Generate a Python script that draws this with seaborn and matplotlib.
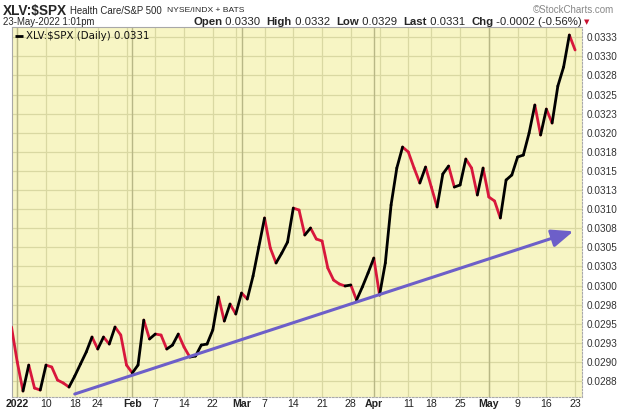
import numpy as np
import pandas as pd
import matplotlib
matplotlib.use("Agg")
import matplotlib.pyplot as plt
import seaborn as sns

# ---------------- data ----------------
holidays = ["2022-01-17", "2022-02-21", "2022-04-15"]
dates = pd.bdate_range("2021-12-31", "2022-05-23", freq="C", holidays=holidays)

ratio = [
    0.029457, 0.028999, 0.028619, 0.028959, 0.028658, 0.028632, 0.028959, 0.028933,
    0.028763, 0.028724, 0.028671, 0.028815, 0.028973, 0.029130, 0.029326, 0.029169,
    0.029326, 0.029234, 0.029457, 0.029352, 0.028959, 0.028855, 0.028959, 0.029548,
    0.029300, 0.029365, 0.029352, 0.029169, 0.029221, 0.029365, 0.029195, 0.029064,
    0.029077, 0.029221, 0.029234, 0.029418, 0.029850, 0.029535, 0.029758, 0.029627,
    0.029902, 0.029823, 0.030124, 0.030504, 0.030884, 0.030491, 0.030295, 0.030425,
    0.030569, 0.031014, 0.030988, 0.030661, 0.030753, 0.030609, 0.030583, 0.030229,
    0.030072, 0.030020, 0.029994, 0.030007, 0.029810, 0.029980, 0.030164, 0.030360,
    0.029876, 0.030295, 0.031054, 0.031538, 0.031813, 0.031748, 0.031538, 0.031342,
    0.031551, 0.031289, 0.031028, 0.031460, 0.031564, 0.031289, 0.031316, 0.031656,
    0.031538, 0.031185, 0.031538, 0.031159, 0.031106, 0.030884, 0.031381, 0.031447,
    0.031682, 0.031708, 0.031996, 0.032363, 0.031970, 0.032310, 0.032127, 0.032611,
    0.032860, 0.033279, 0.033083,
]

ytick_vals = [0.02875, 0.0290, 0.02925, 0.0295, 0.02975, 0.0300, 0.03025, 0.0305,
              0.03075, 0.0310, 0.03125, 0.0315, 0.03175, 0.0320, 0.03225, 0.0325,
              0.03275, 0.0330, 0.03325]
ytick_labels = ["0.0288", "0.0290", "0.0293", "0.0295", "0.0298", "0.0300", "0.0303",
                "0.0305", "0.0308", "0.0310", "0.0313", "0.0315", "0.0318", "0.0320",
                "0.0323", "0.0325", "0.0328", "0.0330", "0.0333"]

xtick_dates = ["2022-01-03", "2022-01-10", "2022-01-18", "2022-01-24", "2022-02-01",
               "2022-02-07", "2022-02-14", "2022-02-22", "2022-03-01", "2022-03-07",
               "2022-03-14", "2022-03-21", "2022-03-28", "2022-04-01", "2022-04-11",
               "2022-04-18", "2022-04-25", "2022-05-02", "2022-05-09", "2022-05-16",
               "2022-05-23"]
xtick_labels = ["2022", "10", "18", "24", "Feb", "7", "14", "22", "Mar", "7", "14",
                "21", "28", "Apr", "11", "18", "25", "May", "9", "16", "23"]
bold_labels = {"2022", "Feb", "Mar", "Apr", "May"}

trend_dates = ["2022-01-18", "2022-05-23"]
trend_vals = [0.02858, 0.03071]

# ---------------- figure ----------------
sns.set_theme(style="white")
plt.rcParams["font.family"] = ["Liberation Sans", "DejaVu Sans"]
plt.rcParams["lines.solid_capstyle"] = "round"
plt.rcParams["lines.solid_joinstyle"] = "round"

W, H = 620, 411
fig = plt.figure(figsize=(W / 100, H / 100), dpi=100)
fig.patch.set_facecolor("white")
L, R, B, T = 11.5, 582, 397, 27
ax = fig.add_axes([L / W, 1 - B / H, (R - L) / W, (B - T) / H])
ax.set_facecolor("#f7f5c4")

pos = {d.strftime("%Y-%m-%d"): i for i, d in enumerate(dates)}

# grid lines
for v in ytick_vals:
    ax.axhline(v, color="#d9d8a2", lw=0.9, zorder=0)
week_starts = [i for i in range(len(dates))
               if i == 0 or dates[i].isocalendar()[1] != dates[i - 1].isocalendar()[1]]
month_starts = [i for i in range(1, len(dates)) if dates[i].month != dates[i - 1].month]
for i in week_starts:
    if i > 0:
        ax.axvline(i, color="#d9d8a2", lw=0.9, zorder=0)
for i in month_starts:
    ax.axvline(i, color="#b8b786", lw=1.0, zorder=0)

# price line, black up / red down segments
rows = []
for i in range(1, len(ratio)):
    d = "up" if ratio[i] >= ratio[i - 1] else "down"
    rows.append(dict(seg=i, x=i - 1, v=ratio[i - 1], dir=d))
    rows.append(dict(seg=i, x=i, v=ratio[i], dir=d))
df = pd.DataFrame(rows)
sns.lineplot(data=df, x="x", y="v", hue="dir", units="seg", estimator=None,
             palette={"up": "#000000", "down": "#d8173c"}, lw=2.0, legend=False,
             sort=False, ax=ax, zorder=3)

# trend arrow
tx = [pos[d] for d in trend_dates]
ax.annotate("", xy=(tx[1] - 0.3, trend_vals[1]), xytext=(tx[0], trend_vals[0]),
            arrowprops=dict(arrowstyle="-|>,head_length=1.1,head_width=0.45",
                            color="#6d5fc9", lw=2.2, shrinkA=0, shrinkB=0),
            zorder=4)

ax.set_xlim(0, 99.2)
ax.set_ylim(0.028541, 0.033384)
ax.set_xlabel("")
ax.set_ylabel("")

ax.yaxis.tick_right()
ax.set_yticks(ytick_vals)
ax.set_yticklabels(ytick_labels)
ax.tick_params(axis="y", length=0, pad=3, labelsize=7.2, labelcolor="#333333")
ax.set_xticks([pos[d] for d in xtick_dates])
ax.set_xticklabels(xtick_labels)
ax.tick_params(axis="x", length=0, pad=1.5, labelsize=7.6, labelcolor="#222222")
for lab in ax.get_xticklabels():
    if lab.get_text() in bold_labels:
        lab.set_fontweight("bold")

for s in ["left", "top"]:
    ax.spines[s].set_color("#a8a8a8")
    ax.spines[s].set_linewidth(0.8)
for s in ["bottom", "right"]:
    ax.spines[s].set_color("#aaaaaa")
    ax.spines[s].set_linewidth(0.8)
    ax.spines[s].set_linestyle((0, (1.5, 1.5)))

# legend text inside the plot
ax.plot([0.006, 0.02], [0.975, 0.975], transform=ax.transAxes, color="black", lw=2.0,
        solid_capstyle="butt")
ax.text(0.026, 0.975, "XLV:$SPX (Daily) 0.0331", transform=ax.transAxes,
        fontsize=7.4, family="DejaVu Sans", va="center", ha="left", color="#111111")

# header
fig.canvas.draw()
rend = fig.canvas.get_renderer()


def seq(x0, y, pieces):
    xc = x0
    for txt, kw, gap in pieces:
        t = fig.text(xc / W, 1 - y / H, txt, va="center", ha="left", **kw)
        xc += t.get_window_extent(renderer=rend).width + gap
    return xc


seq(3, 11, [("XLV:$SPX", dict(fontsize=9.8, fontweight="bold"), 3),
            ("Health Care/S&P 500", dict(fontsize=6.9), 5),
            ("NYSE/INDX + BATS", dict(fontsize=6.1), 0)])
fig.text(614 / W, 1 - 10 / H, "©StockCharts.com", fontsize=7.0, va="center", ha="right",
         color="#888888")
fig.text(3 / W, 1 - 22 / H, "23-May-2022 1:01pm", fontsize=6.9, va="center", ha="left")

fs2 = 8.2
xend = seq(193, 22, [("Open", dict(fontsize=fs2, fontweight="bold"), 0),
                     (" 0.0330  ", dict(fontsize=fs2), 0),
                     ("High", dict(fontsize=fs2, fontweight="bold"), 0),
                     (" 0.0332  ", dict(fontsize=fs2), 0),
                     ("Low", dict(fontsize=fs2, fontweight="bold"), 0),
                     (" 0.0329  ", dict(fontsize=fs2), 0),
                     ("Last", dict(fontsize=fs2, fontweight="bold"), 0),
                     (" 0.0331  ", dict(fontsize=fs2), 0),
                     ("Chg", dict(fontsize=fs2, fontweight="bold"), 0),
                     (" -0.0002 (-0.56%)", dict(fontsize=fs2), 0)])
fig.text((xend + 2) / W, 1 - 22.5 / H, "▼", fontsize=5, color="#c8102e", va="center",
         ha="left", family="DejaVu Sans")

fig.savefig("out.png", dpi=100, facecolor="white")
